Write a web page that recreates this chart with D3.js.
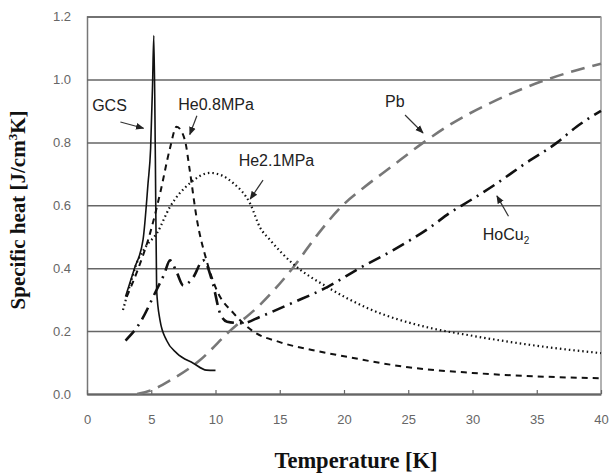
<!DOCTYPE html>
<html lang="en">
<head>
<meta charset="utf-8">
<title>Specific heat</title>
<script src="https://cdn.jsdelivr.net/npm/d3@7"></script>
<style>
  body { margin: 0; background: #fff; }
  .tick text { font-family: "Liberation Sans", Arial, sans-serif; font-size: 13px; fill: #666; }
  .lbl { font-family: "Liberation Sans", Arial, sans-serif; font-size: 16px; fill: #222; }
  .title { font-family: "Liberation Serif", "Times New Roman", serif; font-weight: bold; fill: #111; }
</style>
</head>
<body>
<script>
// temperature [K] and specific heat [J/cm3K]
var gcsT  = [3.0, 3.7, 4.36, 4.75, 4.95, 5.1, 5.2, 5.32, 5.42, 5.68, 6.2, 6.98, 8.27, 9.3, 10.0];
var gcsC  = [0.31, 0.40, 0.49, 0.67, 0.78, 0.98, 1.14, 0.75, 0.33, 0.235, 0.17, 0.13, 0.098, 0.076, 0.075];

var he08T = [3.1, 4.0, 4.9, 5.7, 6.45, 6.97, 7.6, 8.0, 8.53, 9.3, 10.1, 11.4, 12.9, 15, 17.5, 20, 25, 30, 35, 40];
var he08C = [0.31, 0.40, 0.51, 0.64, 0.78, 0.85, 0.81, 0.71, 0.56, 0.425, 0.33, 0.257, 0.20, 0.165, 0.14, 0.12, 0.085, 0.067, 0.056, 0.05];

var he21T = [2.8, 3.3, 3.86, 4.6, 5.42, 6.46, 8.0, 9.6, 11.4, 12.7, 13.46, 14.24, 16, 18.7, 22, 26.7, 30, 33, 36, 40];
var he21C = [0.267, 0.34, 0.415, 0.47, 0.51, 0.595, 0.67, 0.703, 0.67, 0.605, 0.53, 0.49, 0.415, 0.34, 0.27, 0.21, 0.185, 0.165, 0.148, 0.13];

var pbT   = [3.9, 5, 6.5, 8.8, 11.1, 13.5, 16, 18, 19.9, 21.5, 23.6, 26.2, 28.2, 31.9, 35.8, 40];
var pbC   = [0.0, 0.012, 0.044, 0.108, 0.2, 0.285, 0.4, 0.51, 0.6, 0.655, 0.72, 0.8, 0.855, 0.935, 1.0, 1.05];

var hoT   = [3.0, 4.1, 5.4, 6.0, 6.46, 7.0, 7.5, 8.25, 9.05, 9.8, 10.35, 10.9, 12.1, 13.5, 16, 18.7, 21.2, 23.8, 26.7, 28.2, 30, 31.9, 34, 36.6, 38.1, 40];
var hoC   = [0.17, 0.225, 0.33, 0.38, 0.425, 0.385, 0.345, 0.37, 0.425, 0.35, 0.257, 0.23, 0.225, 0.246, 0.29, 0.34, 0.40, 0.457, 0.53, 0.575, 0.62, 0.67, 0.73, 0.8, 0.85, 0.9];

var xTicks = [0, 5, 10, 15, 20, 25, 30, 35, 40];
var yTicks = [0, 0.2, 0.4, 0.6, 0.8, 1.0, 1.2];

// curve labels: text, label position (T, C), arrow from (T, C) to (T, C)
var labelText = ["GCS", "He0.8MPa", "He2.1MPa", "Pb", "HoCu"];
var labelPos  = [[0.4, 0.9], [7.1, 0.903], [11.8, 0.725], [23.2, 0.912], [30.8, 0.49]];
var arrowFrom = [[2.6, 0.865], [8.55, 0.885], [13.7, 0.68], [24.75, 0.887], [32.8, 0.565]];
var arrowTo   = [[4.4, 0.845], [8.0, 0.825], [12.7, 0.62], [26.15, 0.83], [31.9, 0.63]];

var width = 609, height = 475;

var svg = d3.select("body")
    .append("svg")
    .attr("width", width)
    .attr("height", height);

var x = d3.scaleLinear().domain([0, 40]).range([87, 601]);
var y = d3.scaleLinear().domain([0, 1.2]).range([394, 16.6]);

// horizontal grid lines
svg.append("g")
    .attr("transform", "translate(87,0)")
    .call(d3.axisLeft(y).tickValues(yTicks).tickSize(-(601 - 87)).tickFormat(d3.format(".1f")).tickPadding(16))
    .call(function(g) {
        g.select(".domain").attr("stroke", "#777").attr("stroke-width", 1.5);
        g.selectAll(".tick line").attr("stroke", "#666").attr("stroke-width", 1.5);
    });

// right frame
svg.append("line")
    .attr("x1", x(40)).attr("x2", x(40))
    .attr("y1", y(0)).attr("y2", y(1.2))
    .attr("stroke", "#999").attr("stroke-width", 1.5);

// bottom axis
svg.append("g")
    .attr("transform", "translate(0," + y(0) + ")")
    .call(d3.axisBottom(x).tickValues(xTicks).tickSizeInner(-4).tickSizeOuter(0).tickPadding(21))
    .call(function(g) {
        g.select(".domain").attr("stroke", "#666").attr("stroke-width", 2);
        g.selectAll(".tick line").attr("stroke", "#666").attr("stroke-width", 1.2);
    });

// curves
function series(ts, cs) {
    return ts.map(function(t, i) { return [t, cs[i]]; });
}

var line = d3.line()
    .x(function(d) { return x(d[0]); })
    .y(function(d) { return y(d[1]); })
    .curve(d3.curveMonotoneX);

var curves = [
    { pts: series(pbT, pbC),     color: "#777", w: 2.6, dash: "14,8" },
    { pts: series(hoT, hoC),     color: "#111", w: 2.6, dash: "13,6,2,6" },
    { pts: series(he21T, he21C), color: "#111", w: 2.2, dash: "1.5,3" },
    { pts: series(he08T, he08C), color: "#111", w: 2.0, dash: "6,5" },
    { pts: series(gcsT, gcsC),   color: "#111", w: 1.6, dash: null }
];

svg.append("g")
    .selectAll("path")
    .data(curves)
    .enter()
    .append("path")
    .attr("d", function(d) { return line(d.pts); })
    .attr("fill", "none")
    .attr("stroke", function(d) { return d.color; })
    .attr("stroke-width", function(d) { return d.w; })
    .attr("stroke-dasharray", function(d) { return d.dash; });

// arrowhead
svg.append("defs").append("marker")
    .attr("id", "head")
    .attr("viewBox", "0 0 10 10")
    .attr("refX", 9).attr("refY", 5)
    .attr("markerWidth", 7).attr("markerHeight", 7)
    .attr("orient", "auto")
    .append("path")
    .attr("d", "M0,1 L10,5 L0,9 z")
    .attr("fill", "#222");

svg.append("g")
    .selectAll("line")
    .data(arrowFrom)
    .enter()
    .append("line")
    .attr("x1", function(d) { return x(d[0]); })
    .attr("y1", function(d) { return y(d[1]); })
    .attr("x2", function(d, i) { return x(arrowTo[i][0]); })
    .attr("y2", function(d, i) { return y(arrowTo[i][1]); })
    .attr("stroke", "#333")
    .attr("stroke-width", 1.2)
    .attr("marker-end", "url(#head)");

var labels = svg.append("g")
    .selectAll("text")
    .data(labelText)
    .enter()
    .append("text")
    .attr("class", "lbl")
    .attr("x", function(d, i) { return x(labelPos[i][0]); })
    .attr("y", function(d, i) { return y(labelPos[i][1]); })
    .text(function(d) { return d; });

// subscript for HoCu2
labels.filter(function(d) { return d === "HoCu"; })
    .append("tspan")
    .attr("dy", 4)
    .attr("font-size", "10px")
    .text("2");

// axis titles
svg.append("text")
    .attr("class", "title")
    .attr("x", 356)
    .attr("y", 468)
    .attr("text-anchor", "middle")
    .attr("font-size", "22.5px")
    .text("Temperature [K]");

var yt = svg.append("text")
    .attr("class", "title")
    .attr("transform", "translate(25,210) rotate(-90)")
    .attr("text-anchor", "middle")
    .attr("font-size", "21px");
yt.append("tspan").text("Specific heat [J/cm");
yt.append("tspan").attr("dy", -8).attr("font-size", "13px").text("3");
yt.append("tspan").attr("dy", 8).text("K]");
</script>
</body>
</html>
